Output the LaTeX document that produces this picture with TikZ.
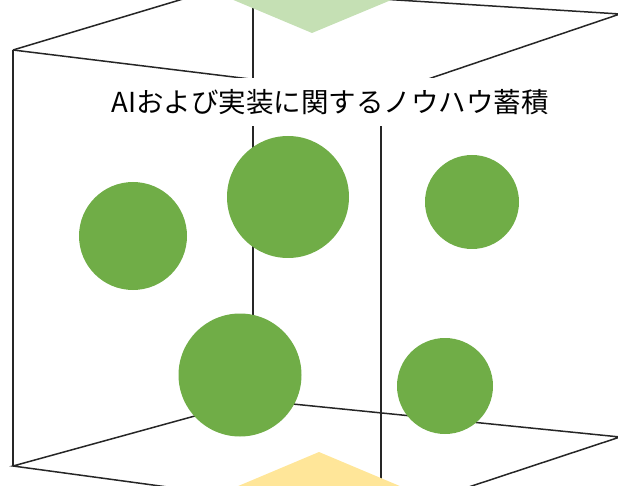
\documentclass[tikz,border=0pt]{standalone}
\usepackage{fontspec}
\newfontfamily\jpfont{Noto Sans CJK JP}
\definecolor{dotgreen}{HTML}{70AD47}
\definecolor{lightgreen}{HTML}{C5E0B4}
\definecolor{lightyellow}{HTML}{FFE699}
\definecolor{edgegray}{HTML}{262626}
\tikzset{
  cubeedge/.style={draw=edgegray, line width=1.5pt},
  dot/.style={circle, fill=dotgreen, draw=none, inner sep=0pt},
  titlebox/.style={fill=white, draw=none, inner xsep=6pt, minimum height=48pt,
    font=\jpfont\fontsize{27.5}{30}\selectfont, text=black}
}
\begin{document}
\begin{tikzpicture}[x=1pt,y=-1pt]
\useasboundingbox (0,0) rectangle (618,486);
\clip (0,0) rectangle (618,486);
% cube vertices
\coordinate (TL) at (13,50);
\coordinate (TF) at (381,95);
\coordinate (TR) at (620,14);
\coordinate (TBL) at (253,-22);
\coordinate (TBR) at (253,-9);
\coordinate (BL) at (13,466);
\coordinate (BB) at (253,400);
\coordinate (BR) at (620,437);
\coordinate (BF) at (381,516);
% edges
\draw[cubeedge] (TL) -- (TF) -- (TR) -- (TBR);
\draw[cubeedge] (TL) -- (TBL);
\draw[cubeedge] (BL) -- (BF) -- (BR) -- (BB) -- cycle;
\draw[cubeedge] (TL) -- (BL);
\draw[cubeedge] (TF) -- (BF);
\draw[cubeedge] (TR) -- (BR);
\draw[cubeedge] (TBL) -- (BB);
% circles
\node[dot, minimum size=108pt] (c1) at (133,236) {};
\node[dot, minimum size=122pt] (c2) at (288,197) {};
\node[dot, minimum size=94pt] (c3) at (472,202) {};
\node[dot, minimum size=123pt] (c4) at (240,375) {};
\node[dot, minimum size=96pt] (c5) at (445,386) {};
% title
\node[titlebox] (title) at (330,102) {AIおよび実装に関するノウハウ蓄積};
% top and bottom markers
\fill[lightgreen] (193,-17) -- (312,33) -- (432,-17) -- cycle;
\fill[lightyellow] (205,500) -- (319,452) -- (433,500) -- cycle;
\end{tikzpicture}
\end{document}
